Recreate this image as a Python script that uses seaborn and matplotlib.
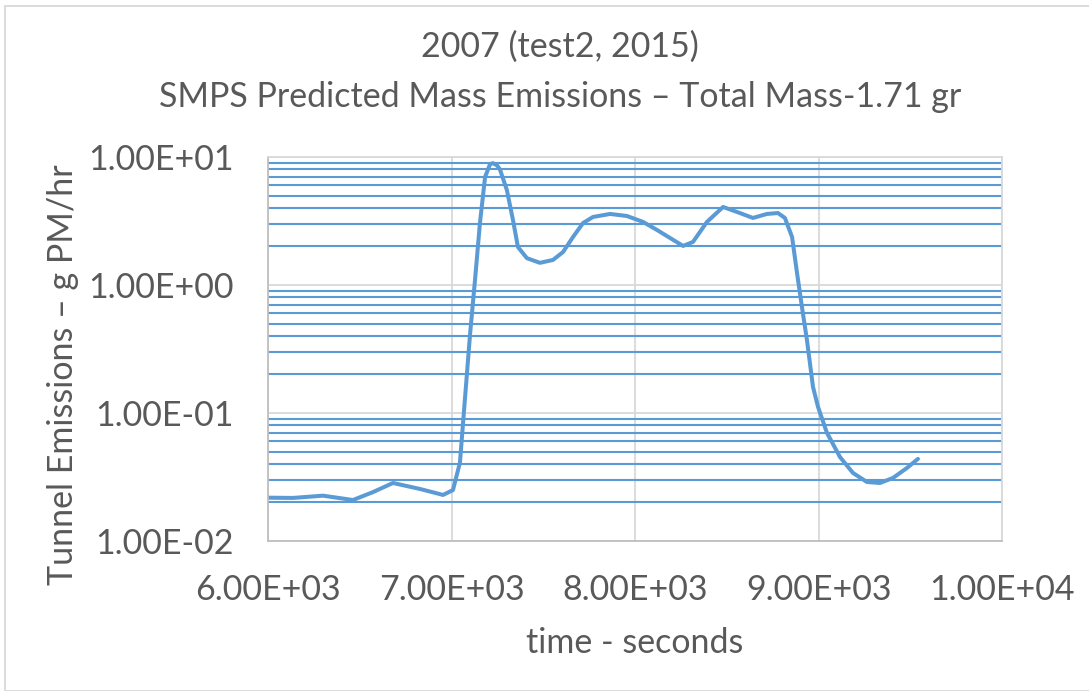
import matplotlib
matplotlib.use("Agg")
import matplotlib.pyplot as plt
import seaborn as sns
import pandas as pd
import numpy as np
from matplotlib.ticker import FixedLocator, LogLocator, NullFormatter, FixedFormatter
from matplotlib.patches import Rectangle

time_s = [6000, 6136, 6300, 6463, 6572, 6681, 6828, 6954, 7008, 7046, 7074, 7101,
          7128, 7155, 7183, 7210, 7226, 7248, 7264, 7302, 7335, 7362, 7411, 7482, 7553, 7608,
          7662, 7717, 7771, 7864, 7956, 8044, 8120, 8191, 8262, 8316, 8392, 8480,
          8556, 8643, 8719, 8779, 8817, 8856, 8883, 8910, 8937, 8970, 8997, 9046,
          9117, 9188, 9264, 9335, 9406, 9482, 9542]
emissions = [0.0218, 0.0217, 0.0226, 0.0209, 0.0241, 0.0284, 0.0255, 0.0229, 0.0250, 0.041, 0.133, 0.41,
             1.09, 3.05, 6.98, 8.8, 8.95, 8.6, 8.0, 5.5, 3.22, 1.98, 1.62, 1.49, 1.57, 1.81,
             2.37, 3.05, 3.40, 3.59, 3.46, 3.11, 2.69, 2.33, 2.02, 2.17, 3.11, 4.07,
             3.72, 3.34, 3.59, 3.65, 3.34, 2.37, 1.24, 0.67, 0.372, 0.160, 0.112, 0.070,
             0.0453, 0.0340, 0.0289, 0.0284, 0.0311, 0.0372, 0.0438]

x_ticks = [6000, 7000, 8000, 9000, 10000]
x_labels = ["6.00E+03", "7.00E+03", "8.00E+03", "9.00E+03", "1.00E+04"]
y_ticks = [0.01, 0.1, 1, 10]
y_labels = ["1.00E-02", "1.00E-01", "1.00E+00", "1.00E+01"]

title_line1 = "2007 (test2, 2015)"
title_line2 = "SMPS Predicted Mass Emissions \u2013 Total Mass-1.71 gr"
xlabel = "time - seconds"
ylabel = "Tunnel Emissions \u2013 g PM/hr"

df = pd.DataFrame({"time": time_s, "em": emissions})

sns.set_style("white")
plt.rcParams['font.family'] = ['Lato', 'DejaVu Sans']

text_color = "#595959"
line_color = "#5B9BD5"
grid_gray = "#D9D9D9"
fs = 24.5

W, H = 1089, 691
fig = plt.figure(figsize=(W / 100, H / 100), dpi=100)
ax = fig.add_axes([268 / W, 1 - 541 / H, (1002 - 268) / W, (541 - 157) / H])

sns.lineplot(data=df, x="time", y="em", ax=ax, color=line_color, linewidth=2.9,
             sort=False, solid_capstyle="round", solid_joinstyle="round")

ax.set_yscale("log")
ax.set_xlim(6000, 10000)
ax.set_ylim(0.01, 10)

ax.xaxis.set_major_locator(FixedLocator(x_ticks))
ax.xaxis.set_major_formatter(FixedFormatter(x_labels))
ax.yaxis.set_major_locator(FixedLocator(y_ticks))
ax.yaxis.set_major_formatter(FixedFormatter(y_labels))
ax.yaxis.set_minor_locator(LogLocator(base=10, subs=np.arange(2, 10)))
ax.yaxis.set_minor_formatter(NullFormatter())

ax.grid(True, which="major", axis="both", color=grid_gray, linewidth=1.3)
ax.grid(True, which="minor", axis="y", color=line_color, linewidth=1.5)
ax.set_axisbelow(True)

ax.tick_params(axis="both", which="both", length=0, labelsize=fs, labelcolor=text_color)
ax.tick_params(axis="x", pad=24)
ax.tick_params(axis="y", pad=25)

for side, sp in ax.spines.items():
    sp.set_visible(True)
    sp.set_color(grid_gray)
    sp.set_linewidth(1.3)
ax.spines["left"].set_color("#BFBFBF")
ax.spines["bottom"].set_color("#BFBFBF")

ax.set_xlabel("")
ax.set_ylabel("")
fig.text(635 / W, 1 - 643 / H, xlabel, ha="center", va="center", fontsize=fs, color=text_color)
fig.text(63 / W, 1 - 375 / H, ylabel, ha="center", va="center", rotation=90,
         fontsize=fs, color=text_color)

fig.text(560 / W, 1 - 47 / H, title_line1, ha="center", va="center", fontsize=fs, color=text_color)
fig.text(560 / W, 1 - 97 / H, title_line2, ha="center", va="center", fontsize=fs, color=text_color)

fig.patches.append(Rectangle((5 / W, 0), 1.0, 1 - 6 / H, transform=fig.transFigure,
                             fill=False, edgecolor=grid_gray, linewidth=1.3))

fig.savefig("out.png", dpi=100)
